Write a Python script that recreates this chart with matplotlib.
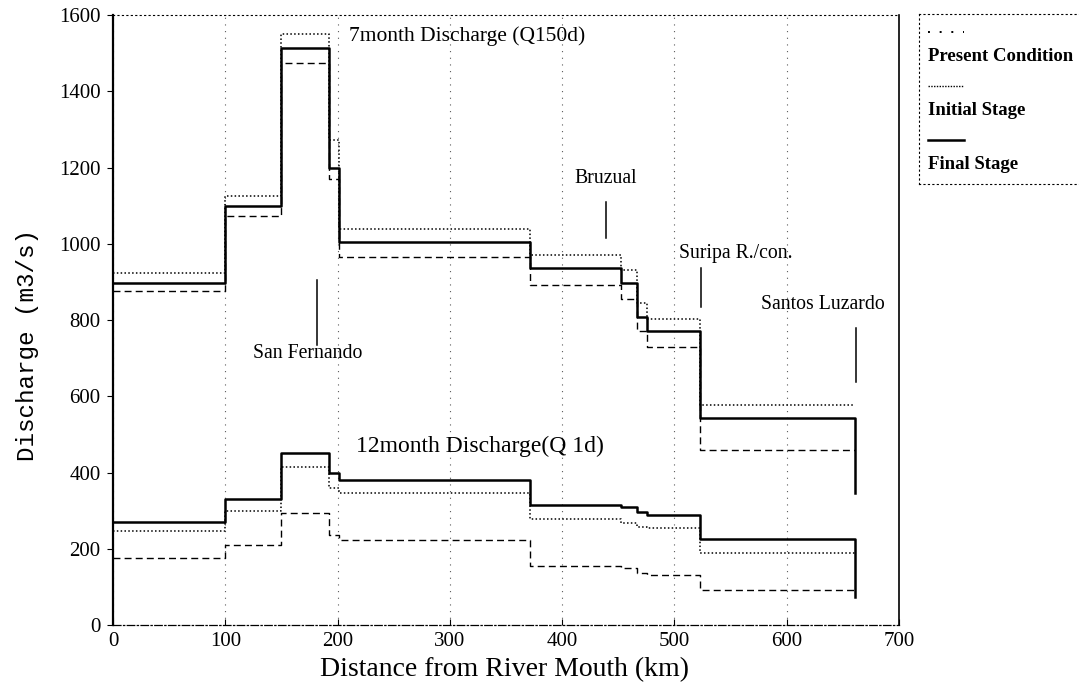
import matplotlib.pyplot as plt

plt.rcParams["font.family"] = ["Liberation Serif", "DejaVu Serif"]

# step breakpoints (km from river mouth); last value is the drop at the end
distance_km = [0, 100, 150, 192, 201, 371, 452, 467, 476, 523, 661]

q150_present = [877, 1072, 1474, 1170, 964, 892, 856, 770, 729, 458]
q150_initial = [923, 1126, 1549, 1273, 1040, 971, 932, 844, 802, 576]
q150_final = [898, 1098, 1514, 1199, 1004, 936, 898, 809, 772, 543]
q150_end = 346

q1_present = [175, 210, 293, 236, 222, 156, 149, 137, 131, 92]
q1_initial = [247, 300, 415, 359, 347, 279, 268, 257, 254, 190]
q1_final = [269, 330, 452, 398, 381, 315, 309, 297, 289, 225]
q1_end = 74

# gauging stations: name, km, marker from/to, label position
stations = [
    ("San Fernando", 182, 735, 905, 173, 712),
    ("Bruzual", 439, 1016, 1110, 439, 1170),
    ("Suripa R./con.", 524, 835, 937, 555, 975),
    ("Santos Luzardo", 662, 638, 780, 632, 842),
]

styles = {
    "Present Condition": dict(ls=(0, (5, 3)), lw=1.0),
    "Initial Stage": dict(ls=(0, (1, 1.5)), lw=1.1),
    "Final Stage": dict(ls="-", lw=1.8),
}
legend_styles = {
    "Present Condition": dict(ls=(0, (1, 5)), lw=1.4),
    "Initial Stage": dict(ls=(0, (1, 1)), lw=1.0),
    "Final Stage": dict(ls="-", lw=1.8),
}


def step_xy(vals, end):
    return distance_km, list(vals) + [end]


fig = plt.figure(figsize=(10.79, 6.95), dpi=100)
ax = fig.add_axes([0.1047, 0.1007, 0.7285, 0.8777])

series = [
    ("Present Condition", q150_present, q1_present),
    ("Initial Stage", q150_initial, q1_initial),
    ("Final Stage", q150_final, q1_final),
]
for name, upper, lower in series:
    e1 = q150_end if name == "Final Stage" else upper[-1]
    e2 = q1_end if name == "Final Stage" else lower[-1]
    x, y = step_xy(upper, e1)
    ax.step(x, y, where="post", color="black", **styles[name])
    x, y = step_xy(lower, e2)
    ax.step(x, y, where="post", color="black", **styles[name])

for name, km, y0, y1, tx, ty in stations:
    ax.plot([km, km], [y0, y1], color="black", lw=1.1)
    ax.text(tx, ty, name, ha="center", va="center", fontsize=14.2)

ax.text(210, 1545, "7month Discharge (Q150d)", fontsize=15.5, va="center")
ax.text(216, 468, "12month Discharge(Q 1d)", fontsize=17, va="center")

ax.set_xlim(0, 700)
ax.set_ylim(0, 1600)
ax.set_xticks(range(0, 701, 100))
ax.set_yticks(range(0, 1601, 200))
ax.tick_params(labelsize=15, length=4)
ax.tick_params(axis="y", direction="out", pad=5)
ax.tick_params(axis="x", direction="in", pad=5)
ax.xaxis.grid(True, color="0.35", ls=(0, (1, 5)), lw=0.8)

ax.spines["left"].set_linewidth(1.6)
ax.spines["top"].set_linestyle((0, (1, 3)))
ax.spines["top"].set_linewidth(0.8)
ax.spines["bottom"].set_linestyle((0, (6, 2, 1, 2)))
ax.spines["bottom"].set_linewidth(0.9)
ax.spines["right"].set_linestyle((0, (4, 1)))
ax.spines["right"].set_linewidth(1.2)

fig.text(505 / 1079, 1 - 670 / 695, "Distance from River Mouth (km)",
         fontsize=20, ha="center", va="center")
fig.text(28 / 1079, 1 - 345 / 695, "Discharge (m3/s)", rotation=90,
         fontsize=17.5, ha="center", va="center",
         family=["Liberation Mono", "DejaVu Sans Mono"])

# legend box, drawn in its own axes
lax = fig.add_axes([919 / 1079, 1 - 184 / 695, 0.16, 170 / 695])
lax.set_xlim(0, 1)
lax.set_ylim(0, 1)
lax.set_xticks([])
lax.set_yticks([])
for s in lax.spines.values():
    s.set_linestyle((0, (1, 3)))
    s.set_linewidth(0.8)
lax.spines["right"].set_visible(False)
for i, name in enumerate(["Present Condition", "Initial Stage", "Final Stage"]):
    ly = 0.895 - i * 0.318
    lax.plot([0.055, 0.26], [ly, ly], color="black", **legend_styles[name])
    lax.text(0.05, ly - 0.145, name, fontsize=13.5, va="center",
             fontweight="bold")

fig.savefig("out.png", dpi=100)
